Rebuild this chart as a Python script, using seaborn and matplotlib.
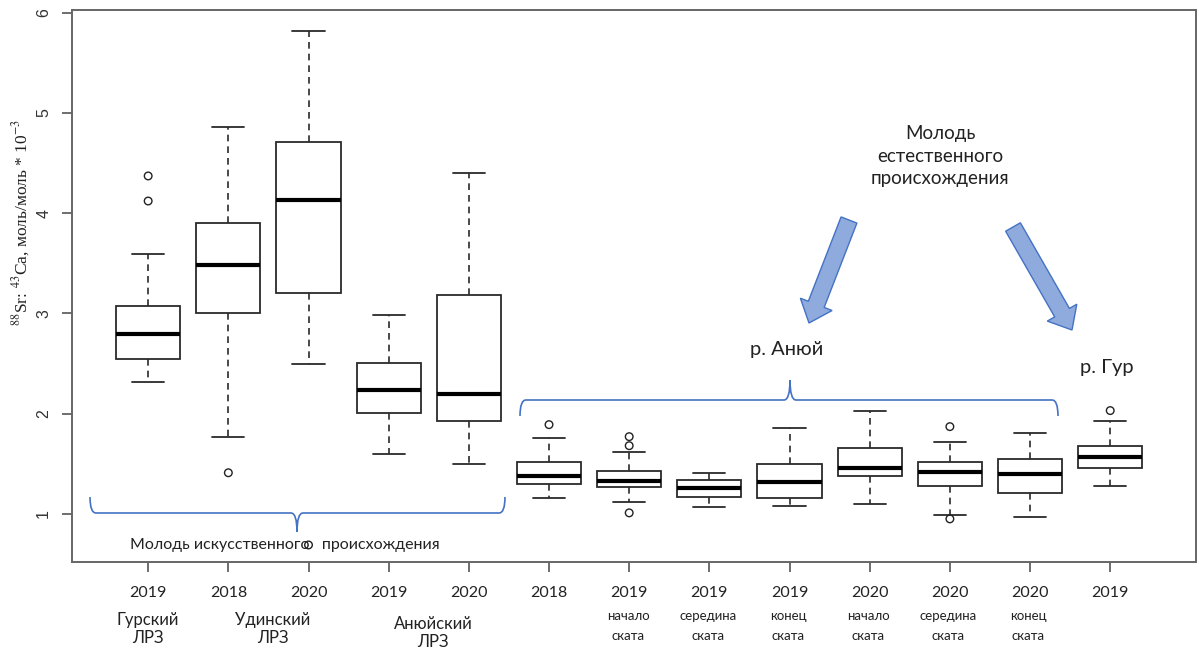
import numpy as np
import pandas as pd
import seaborn as sns
import matplotlib.pyplot as plt
from matplotlib.path import Path
from matplotlib.patches import PathPatch, FancyArrow
from matplotlib.transforms import IdentityTransform

# ---------------- data (five-number summaries) -------------
group_ids = [f"g{i}" for i in range(1, 14)]
years = ["2019", "2018", "2020", "2019", "2020", "2018", "2019",
         "2019", "2019", "2020", "2020", "2020", "2019"]
sublabels = ["", "", "", "", "", "", "начало\nската", "середина\nската",
             "конец\nската", "начало\nската", "середина\nската", "конец\nската", ""]
hatchery_labels = ["Гурский\nЛРЗ", "Удинский\nЛРЗ", "Анюйский\nЛРЗ"]

whisker_low = [2.32, 1.77, 2.49, 1.60, 1.50, 1.16, 1.12, 1.07, 1.08, 1.10, 0.99, 0.97, 1.28]
q1 = [2.54, 3.00, 3.20, 2.01, 1.93, 1.30, 1.27, 1.17, 1.16, 1.38, 1.28, 1.21, 1.46]
median = [2.79, 3.48, 4.13, 2.24, 2.20, 1.38, 1.33, 1.26, 1.32, 1.46, 1.42, 1.40, 1.57]
q3 = [3.07, 3.90, 4.71, 2.50, 3.18, 1.52, 1.43, 1.34, 1.50, 1.66, 1.52, 1.55, 1.68]
whisker_high = [3.59, 4.86, 5.82, 2.98, 4.40, 1.76, 1.62, 1.41, 1.86, 2.03, 1.72, 1.81, 1.93]
outliers = [[4.12, 4.37], [1.41], [0.69], [], [], [1.89], [1.01, 1.68, 1.77],
            [], [], [], [0.95, 1.87], [], [2.03]]

# long-form tables
box_df = pd.DataFrame({
    "group": np.repeat(group_ids, 5),
    "value": np.ravel(np.column_stack([whisker_low, q1, median, q3, whisker_high])),
})
out_rows = [(group_ids.index(g), v) for g, vals in zip(group_ids, outliers) for v in vals]
out_df = pd.DataFrame(out_rows, columns=["pos", "value"])

# ---------------- figure ----------------
W, H = 1199, 650
sns.set_style("ticks")
plt.rcParams["font.family"] = ["Lato", "Open Sans", "DejaVu Sans"]
plt.rcParams["mathtext.fontset"] = "stix"

fig = plt.figure(figsize=(W / 100, H / 100), dpi=100)
ax = fig.add_axes([72 / W, 1 - 562 / H, (1196 - 72) / W, (562 - 10) / H])

sns.boxplot(data=box_df, x="group", y="value", order=group_ids, ax=ax,
            whis=(0, 100), showfliers=False, width=0.8, color="white",
            linecolor="#2a2a2a", linewidth=1.3,
            medianprops=dict(color="black", linewidth=3.0),
            whiskerprops=dict(linestyle=(0, (4, 3)), linewidth=1.2),
            capprops=dict(linewidth=1.3))
sns.scatterplot(data=out_df, x="pos", y="value", ax=ax, s=30, marker="o",
                facecolor="none", edgecolor="#222222", linewidth=1.0, zorder=5)

ax.set_xlim(-0.95, 13.07)
ax.set_ylim(0.52, 6.025)
ax.set_xticks(range(len(group_ids)))
ax.set_xticklabels(years, fontsize=11.5, color="#222222")
ax.set_yticks([1, 2, 3, 4, 5, 6])
ax.set_yticklabels(["1", "2", "3", "4", "5", "6"], fontsize=11.5,
                   family=["Liberation Sans", "DejaVu Sans"], color="#333333")
ax.tick_params(axis="y", labelrotation=90, length=7, width=1.2, color="#555555", pad=8)
ax.tick_params(axis="x", length=7, width=1.2, color="#555555", pad=10)
for lab in ax.get_yticklabels():
    lab.set_va("center")
for s in ax.spines.values():
    s.set_visible(True)
    s.set_color("#666666")
    s.set_linewidth(1.4)
ax.set_xlabel("")
ax.set_ylabel(r"$^{88}$Sr: $^{43}$Ca, моль/моль * 10$^{-3}$",
              family=["Liberation Serif", "DejaVu Serif"], fontsize=12.5, color="#222222")
ax.yaxis.label.set_va("center")
ax.yaxis.set_label_coords((21 - 72) / (1196 - 72), (562 - 222) / (562 - 10))


def fx(x):
    return x / W


def fy(y):
    return 1 - y / H


# sub-labels under the year ticks
for i, s in enumerate(sublabels):
    if s:
        xpix = 148 + 80 * i
        for j, line in enumerate(s.split("\n")):
            fig.text(fx(xpix), fy(616 + 20 * j), line, ha="center", va="center",
                     fontsize=9.5, color="#222222")
for (xpix, ypix), s in zip([(148, 620), (273, 620), (433, 624)], hatchery_labels):
    for j, line in enumerate(s.split("\n")):
        fig.text(fx(xpix), fy(ypix + 18 * j), line, ha="center", va="center",
                 fontsize=12, color="#222222")

# annotations
fig.text(fx(285), fy(545), "Молодь искусственного   происхождения", ha="center",
         va="center", fontsize=11.5, color="#222222")
for j, line in enumerate(["Молодь", "естественного", "происхождения"]):
    fig.text(fx(940), fy(133 + 23 * j), line, ha="center", va="center",
             fontsize=13.5, color="#222222")
fig.text(fx(787), fy(349), "р. Анюй", ha="center", va="center", fontsize=14.5,
         color="#222222")
fig.text(fx(1107), fy(367), "р. Гур", ha="center", va="center", fontsize=14.5,
         color="#222222")


def brace(x0, x1, xm, yh, ye, yt, r=6):
    pts = [(x0, ye), (x0, yh), (x0 + r, yh), (xm - r, yh), (xm, yh), (xm, yt),
           (xm, yh), (xm + r, yh), (x1 - r, yh), (x1, yh), (x1, ye)]
    codes = [Path.MOVETO, Path.CURVE3, Path.CURVE3, Path.LINETO, Path.CURVE3,
             Path.CURVE3, Path.CURVE3, Path.CURVE3, Path.LINETO, Path.CURVE3,
             Path.CURVE3]
    verts = [(fx(a), fy(b)) for a, b in pts]
    fig.add_artist(PathPatch(Path(verts, codes), fill=False, edgecolor="#4472C4",
                             linewidth=1.2, transform=fig.transFigure))


brace(90, 505, 297, 513, 497, 532)
brace(520, 1058, 790, 400, 416, 380)


def block_arrow(x0, y0, x1, y1):
    fig.add_artist(FancyArrow(x0, H - y0, x1 - x0, -(y1 - y0), width=17,
                              head_width=34, head_length=20,
                              length_includes_head=True, transform=IdentityTransform(),
                              facecolor="#8FAADC", edgecolor="#4472C4", linewidth=1.0))


block_arrow(849, 220, 809, 323)
block_arrow(1013, 227, 1072, 330)

fig.savefig("out.png", dpi=100)
